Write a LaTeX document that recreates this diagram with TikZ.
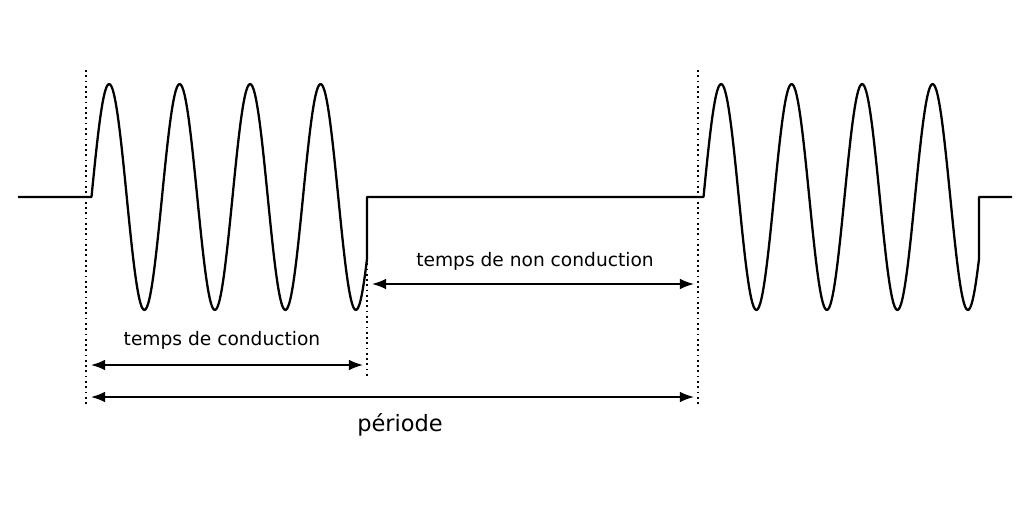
\documentclass[tikz,border=0pt]{standalone}
\usepackage{fontspec}
\setmainfont{DejaVu Sans}
\usetikzlibrary{arrows.meta}
\tikzset{
  wave/.style={line width=1.3pt, line join=round},
  guide/.style={dotted, line width=1pt},
  span/.style={{Latex[length=8pt,width=6pt]}-{Latex[length=8pt,width=6pt]}, line width=0.9pt},
  lbl/.style={font=\fontsize{10.6}{12}\selectfont}
}
\begin{document}
\begin{tikzpicture}[x=0.02cm,y=-0.02cm]
  \useasboundingbox (0,0) rectangle (1024,515);
  % signal
  \draw [wave] (18,197)--(86,197)--(91.5,197)
      -- plot[domain=91.5:367,samples=220,smooth] (\x,{197-113*sin(5.10638*(\x-91.5))})
      --(367,197)--(698,197)--(703.5,197)
      -- plot[domain=703.5:979,samples=220,smooth] (\x,{197-113*sin(5.10638*(\x-703.5))})
      --(979,197)--(1012,197);
  % guides
  \coordinate (g1t) at (86,70);   \coordinate (g1b) at (86,405);
  \coordinate (g2t) at (367,200); \coordinate (g2b) at (367,378);
  \coordinate (g3t) at (698,70);  \coordinate (g3b) at (698,405);
  \draw [guide] (g1t)--(g1b);
  \draw [guide] (g2t)--(g2b);
  \draw [guide] (g3t)--(g3b);
  % spans
  \coordinate (nc1) at (372,284); \coordinate (nc2) at (694,284);
  \coordinate (c1) at (91,365);   \coordinate (c2) at (363,365);
  \coordinate (p1) at (91,397);   \coordinate (p2) at (694,397);
  \draw [span] (nc1)--(nc2);
  \draw [span] (c1)--(c2);
  \draw [span] (p1)--(p2);
  \node [lbl] (tnc) at (535,261) {temps de non conduction};
  \node [lbl] (tc) at (222,340) {temps de conduction};
  \node [font=\fontsize{12.8}{15}\selectfont] (per) at (400,425) {période};
\end{tikzpicture}
\end{document}
